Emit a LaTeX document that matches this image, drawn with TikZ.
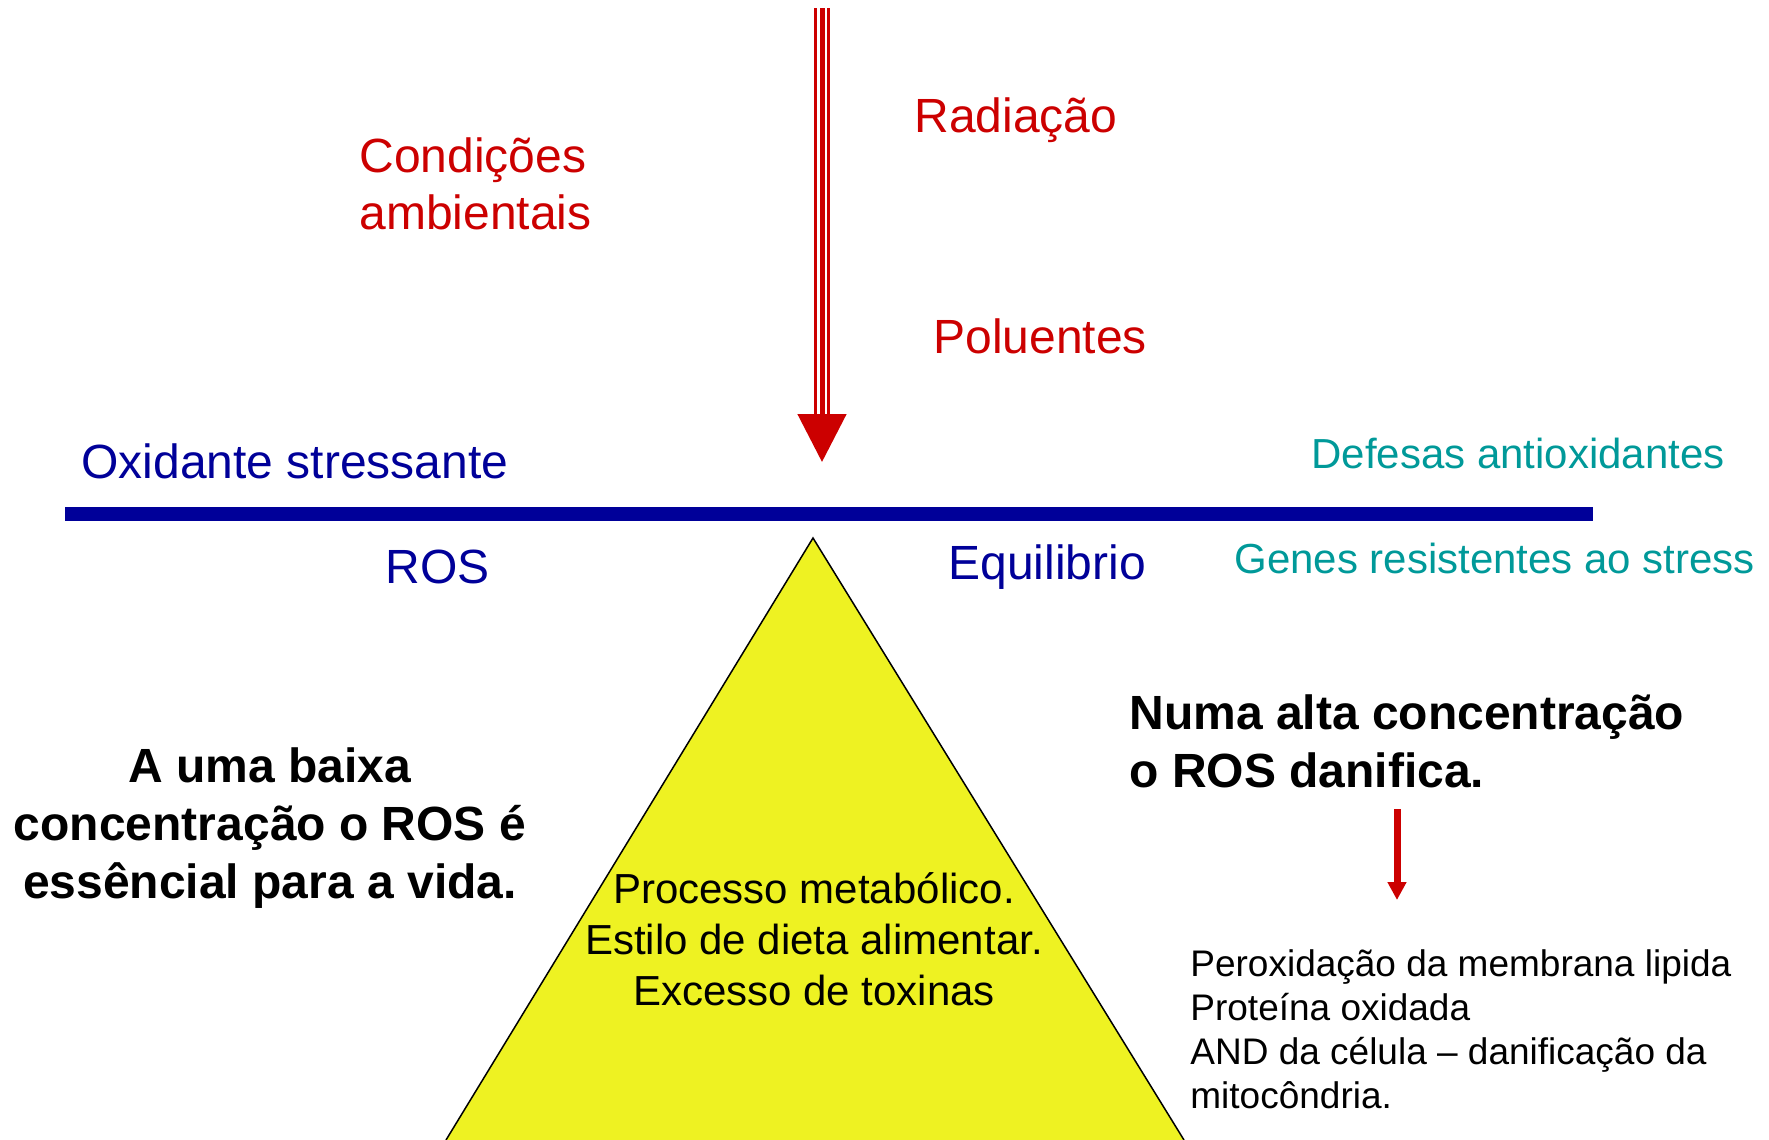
\documentclass[tikz,border=0pt]{standalone}
\usepackage{fontspec}
\setmainfont{Liberation Sans}
\usetikzlibrary{arrows.meta}
\usepackage{xcolor}
\definecolor{rosred}{RGB}{204,0,0}
\definecolor{rosblue}{RGB}{0,0,153}
\definecolor{rosteal}{RGB}{0,153,153}
\definecolor{rosyellow}{RGB}{238,242,34}

\begin{document}
\begin{tikzpicture}[x=0.5pt,y=-0.5pt,
    lbl/.style={inner sep=0pt, anchor=base west, font=\fontsize{24}{28.5}\selectfont},
    smalllbl/.style={inner sep=0pt, anchor=base west, font=\fontsize{21}{25.5}\selectfont},
    boldlbl/.style={inner sep=0pt, font=\bfseries\fontsize{24}{29}\selectfont},
    listlbl/.style={inner sep=0pt, anchor=base west, align=left, font=\fontsize{18.5}{22}\selectfont}]
            \useasboundingbox (0,0) rectangle (1769,1140);
            % Yellow pyramid, cut by the lower edge
            \fill[rosyellow] (446,1140) -- (813,538) -- (1184,1140) -- cycle;
            \draw[line width=0.75pt] (446,1140) -- (813,538) -- (1184,1140);
            % Blue balance beam
            \fill[rosblue] (65,507) rectangle (1593,521);
            % Striped arrow from the top
            \coordinate (src) at (822,8);
            \coordinate (hit) at (822,462);
            \foreach \dx in {-6.5,6.5} {
                \draw[rosred, line width=1.3pt] ([xshift=\dx*0.5pt]src) -- ([xshift=\dx*0.5pt, yshift=24pt]hit);
            }
            \draw[rosred, line width=2.5pt, -{Triangle[length=24pt,width=24pt]}] (src) -- (hit);
            % Red labels (multi-line nodes sit on their last line)
            \node[lbl, rosred, align=left] (cond) at (359,229) {Condições\\ambientais};
            \node[lbl, rosred] (rad) at (914,132) {Radiação};
            \node[lbl, rosred] (pol) at (933,353) {Poluentes};
            % Labels round the beam
            \node[lbl, rosblue] (oxi) at (81,478) {Oxidante stressante};
            \node[smalllbl, rosteal] (def) at (1311,468) {Defesas antioxidantes};
            \node[lbl, rosblue] (ros) at (385,583) {ROS};
            \node[lbl, rosblue] (equi) at (948,579) {Equilibrio};
            \node[smalllbl, rosteal] (genes) at (1234,573) {Genes resistentes ao stress};
            % Bold statements
            \node[boldlbl, anchor=base, align=center] (low) at (270,898) {A uma baixa\\concentração o ROS é\\essêncial para a vida.};
            \node[boldlbl, anchor=base west, align=left] (high) at (1129,787) {Numa alta concentração\\o ROS danifica.};
            % Causes inside the pyramid
            \node[smalllbl, anchor=base, align=center] (causes) at (814,1005) {Processo metabólico.\\Estilo de dieta alimentar.\\Excesso de toxinas};
            % Damage list
            \coordinate (dmgtop) at (1397,809);
            \coordinate (dmgtip) at (1397,900);
            \draw[rosred, line width=3.5pt, -{Triangle[length=9pt,width=9pt]}] (dmgtop) -- (dmgtip);
            \node[listlbl] (damage) at (1190,1108) {Peroxidação da membrana lipida\\Proteína oxidada\\AND da célula -- danificação da\\mitocôndria.};
        \end{tikzpicture}
\end{document}
